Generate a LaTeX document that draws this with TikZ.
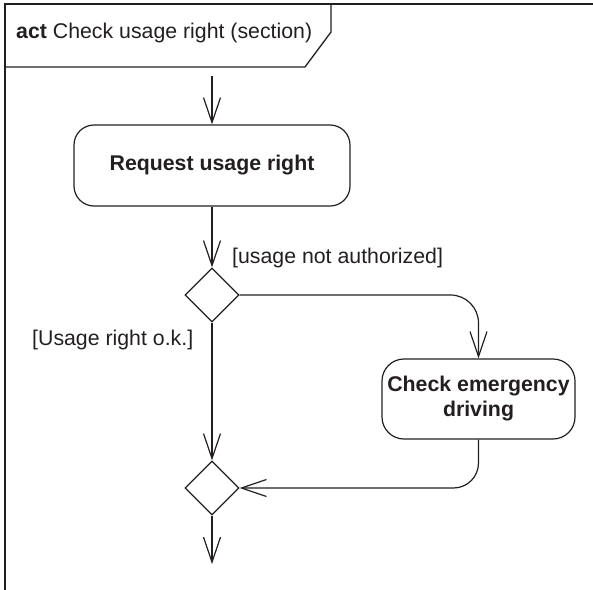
\documentclass[tikz,border=0pt]{standalone}
\usepackage{fontspec}
\setmainfont{Liberation Sans}
\usetikzlibrary{shapes.geometric,arrows.meta}
\definecolor{ink}{HTML}{231F20}
\begin{document}
\begin{tikzpicture}[x=1pt,y=-1pt,
  txt/.style={font=\fontsize{21.3}{25}\selectfont,text=ink},
  action/.style={draw=ink,line width=1.2pt,rounded corners=20pt,align=center,inner sep=0pt,text=ink,font=\fontsize{21.3}{25}\selectfont\bfseries},
  decision/.style={draw=ink,line width=1.2pt,diamond,minimum width=54pt,minimum height=54pt,inner sep=0pt},
  flow/.style={draw=ink,line width=1.2pt,-{Straight Barb[length=25pt,width=17pt]}},
  guard/.style={txt,inner sep=0pt}]
\useasboundingbox (0,0) rectangle (593,589);
% frame
\draw[ink,line width=2pt] (5,600) -- (5,4) -- (600,4);
\draw[ink,line width=1.3pt] (331,4) -- (331,32) -- (305,67) -- (5,67);
\node[txt,anchor=base west,inner sep=0pt] (title) at (16,38.5) {\textbf{act} Check usage right (section)};
% nodes
\coordinate (start) at (212,76);
\node[action,minimum width=276pt,minimum height=81pt] (req) at (212,165.5) {Request usage right};
\node[decision] (d1) at (212,295) {};
\node[action,minimum width=193pt,minimum height=80pt,rounded corners=22pt] (chk) at (478.5,399) {Check emergency\\driving};
\node[decision] (d2) at (212,488) {};
\coordinate (end) at (212,564);
% guards
\node[guard,anchor=west] (g1) at (232,258) {[usage not authorized]};
\node[guard,anchor=west] (g2) at (32,340) {[Usage right o.k.]};
% edges
\draw[flow] (start) -- (req);
\draw[flow] (req) -- (d1);
\draw[flow,rounded corners=28pt] (d1.east) -| (chk.north);
\draw[flow] (d1) -- (d2);
\draw[flow,rounded corners=25pt] (chk.south) |- (d2.east);
\draw[flow] (d2) -- (end);
\end{tikzpicture}
\end{document}
